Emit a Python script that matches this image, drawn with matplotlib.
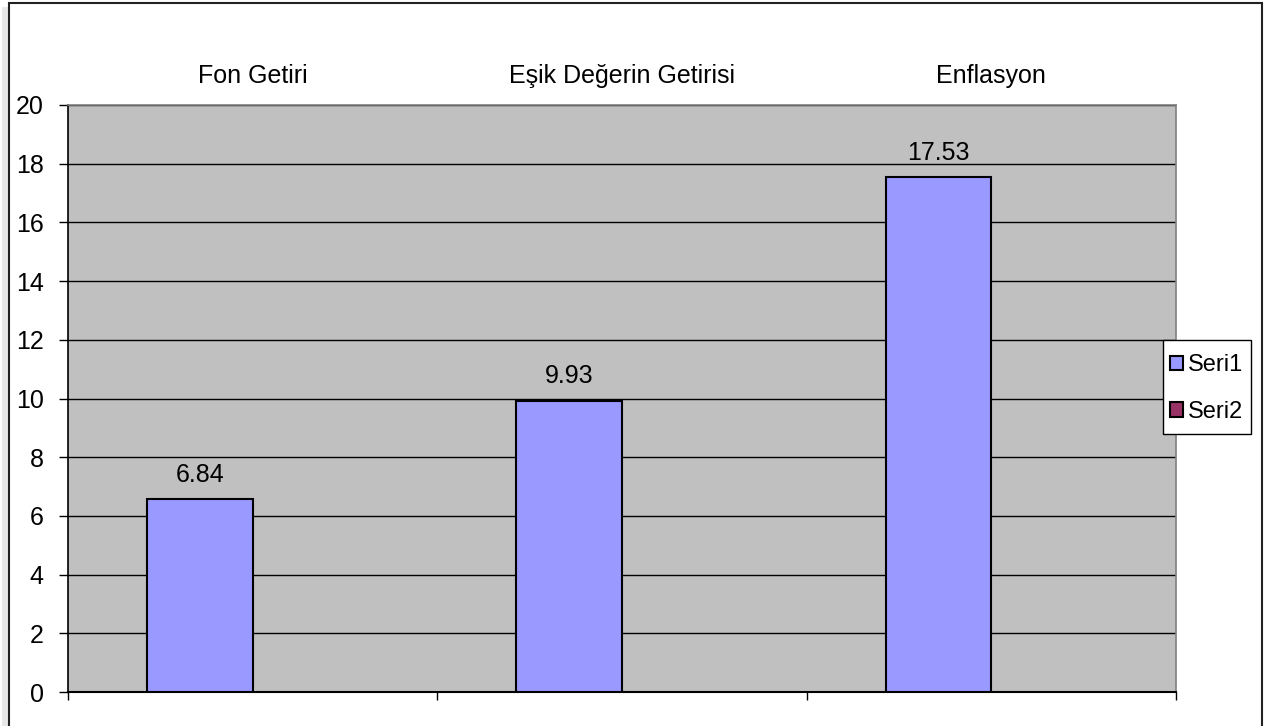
import matplotlib
matplotlib.use("Agg")
import matplotlib.pyplot as plt
import numpy as np
from matplotlib.patches import Rectangle

plt.rcParams['font.family'] = ['Liberation Sans', 'DejaVu Sans']

categories = ["Fon Getiri", "Eşik Değerin Getirisi", "Enflasyon"]
seri1 = [6.57, 9.93, 17.53]
seri1_labels = ["6.84", "9.93", "17.53"]
seri2 = [0, 0, 0]
series_names = ["Seri1", "Seri2"]
yticks = [0, 2, 4, 6, 8, 10, 12, 14, 16, 18, 20]
colors = ["#9999ff", "#993366"]

W, H = 1266, 726
FS = 18
fig = plt.figure(figsize=(W / 100, H / 100), dpi=100)
fig.patch.set_facecolor("white")

def px(x0, y0, w, h):
    # figure-fraction rectangle from top-left pixel coords
    return (x0 / W, 1 - (y0 + h) / H), w / W, h / H

# outer chart frame with shadow
fig.patches.append(Rectangle((2 / W, -0.01), 7 / W, 1.0, transform=fig.transFigure,
                             facecolor="#e8e8e8", edgecolor="none", zorder=0))
fig.patches.append(Rectangle((9 / W, -0.05), 1253 / W, 1 - 2.5 / H + 0.05,
                             transform=fig.transFigure, facecolor="none",
                             edgecolor="#222222", linewidth=1.5, zorder=1))

ax = fig.add_axes([68 / W, 1 - 692 / H, (1176 - 68) / W, (692 - 105) / H])
ax.set_facecolor("#c0c0c0")

x = np.arange(len(categories))
gap = 1.5
w = 1.0 / (2 + gap)
b1 = ax.bar(x - w / 2, seri1, width=w, color=colors[0], edgecolor="black", linewidth=1.5,
            label=series_names[0], zorder=3)
b2 = ax.bar(x + w / 2, seri2, width=w, color=colors[1], edgecolor="black", linewidth=1.5,
            label=series_names[1], zorder=3)
for i in range(len(seri2)):
    b2[i].set_visible(False)

for rect, lab in zip(b1, seri1_labels):
    ax.annotate(lab, (rect.get_x() + rect.get_width() / 2, rect.get_height()),
                xytext=(0, 12.5), textcoords="offset points", ha="center", va="baseline",
                fontsize=FS, color="black")

ax.set_xlim(-0.5, len(categories) - 0.5)
ax.set_ylim(0, 20)
ax.set_yticks(yticks)
ax.set_yticklabels([str(v) for v in yticks], fontsize=FS)
ax.yaxis.grid(True, color="black", linewidth=1)
ax.set_axisbelow(True)
ax.tick_params(axis="y", direction="out", length=6.5, width=1, pad=11, colors="black")

ax.set_xticks(np.arange(len(categories) + 1) - 0.5)
ax.set_xticklabels([])
ax.tick_params(axis="x", direction="out", length=6, width=1, colors="black")

for s in ["top", "right"]:
    ax.spines[s].set_color("#808080")
    ax.spines[s].set_linewidth(1.2)
ax.spines["left"].set_color("black")
ax.spines["bottom"].set_color("black")
ax.spines["left"].set_linewidth(1.2)
ax.spines["bottom"].set_linewidth(1.5)

# category labels at top
for i, c in enumerate(categories):
    ax.text(i, 1 + 29 / 587, c, transform=ax.get_xaxis_transform(), ha="center",
            va="center", fontsize=FS)

# legend (manual frame)
fr_xy, fr_w, fr_h = px(1163, 340, 88, 94)
fig.patches.append(Rectangle(fr_xy, fr_w, fr_h, transform=fig.transFigure,
                             facecolor="white", edgecolor="black", linewidth=1, zorder=2))
handles = [Rectangle((0, 0), 1, 1, facecolor=c, edgecolor="black", linewidth=1.5)
           for c in colors]
leg = fig.legend(handles, series_names, loc="center left",
                 bbox_to_anchor=(1170 / W, 1 - 388.5 / H), fontsize=FS - 1, frameon=False,
                 handlelength=0.55, handleheight=0.55, handletextpad=0.2, labelspacing=1.05,
                 borderpad=0, borderaxespad=0)
leg.set_zorder(3)

fig.savefig("out.png", dpi=100, facecolor="white")
